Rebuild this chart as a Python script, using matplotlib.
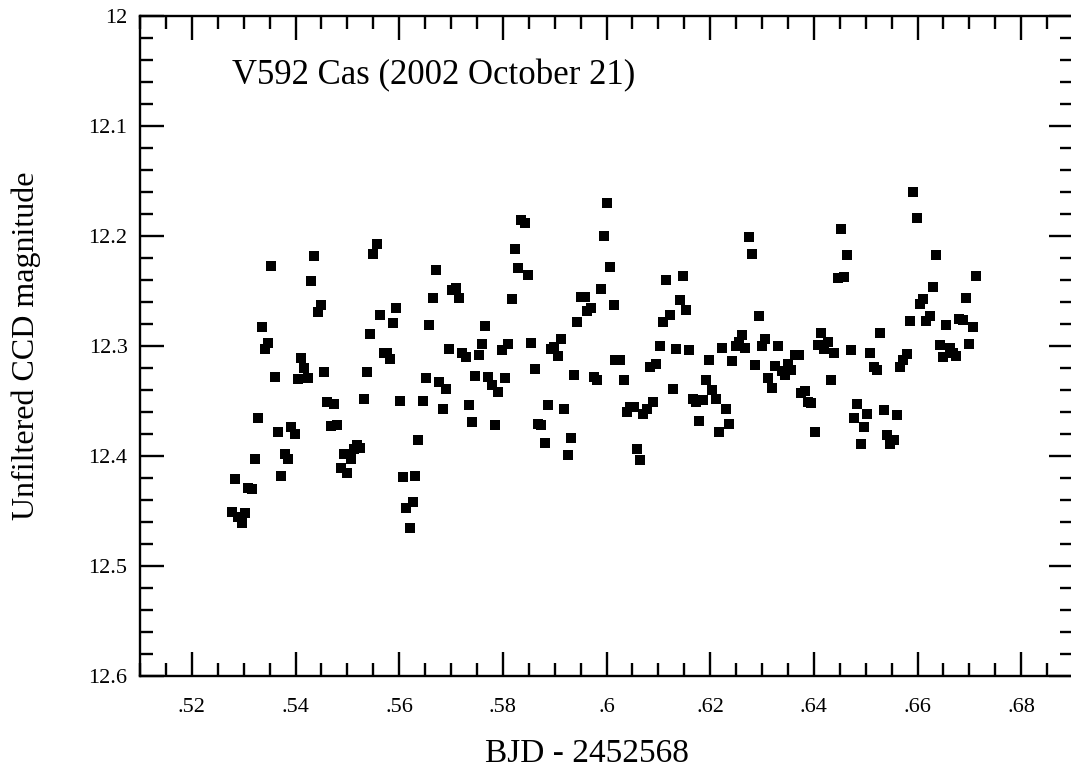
import matplotlib
matplotlib.use("Agg")
import matplotlib.pyplot as plt
from matplotlib.ticker import MultipleLocator, FuncFormatter

# BJD - 2452568 (fraction of day) and unfiltered CCD magnitude
bjd = [
    0.5557, 0.5550, 0.5436, 0.5353, 0.5430, 0.5449, 0.5444, 0.5594, 0.5563, 0.5588,
    0.5336, 0.5544, 0.5347, 0.5341, 0.5411, 0.5417, 0.5361, 0.5405, 0.5424, 0.5455,
    0.5538, 0.5570, 0.5577, 0.5582, 0.5461, 0.5474, 0.5532, 0.5602, 0.5646, 0.5328,
    0.5366, 0.5392, 0.5399, 0.5469, 0.5480, 0.5322, 0.5380, 0.5386, 0.5494, 0.5507,
    0.5519, 0.5525, 0.5513, 0.5488, 0.5500, 0.5284, 0.5372, 0.5309, 0.5317, 0.5278,
    0.5289, 0.5303, 0.5297, 0.5608, 0.5631, 0.5627, 0.5613, 0.5621, 0.5636,
    0.6001, 0.5835, 0.5843, 0.5995, 0.5824, 0.6007, 0.5829, 0.5849, 0.5671, 0.5710,
    0.5702, 0.5716, 0.5665, 0.5818, 0.5989, 0.5951, 0.5958, 0.5970, 0.5962, 0.5943,
    0.6014, 0.5658, 0.5766, 0.5696, 0.5721, 0.5729, 0.5760, 0.5754, 0.5810, 0.5798,
    0.5854, 0.5912, 0.5898, 0.5892, 0.5906, 0.6017, 0.6027, 0.5652, 0.5677, 0.5690,
    0.5746, 0.5771, 0.5779, 0.5791, 0.5804, 0.5862, 0.5937, 0.5976, 0.5982, 0.5685,
    0.5735, 0.5887, 0.5918, 0.5741, 0.5785, 0.5868, 0.5874, 0.5881, 0.5932, 0.5926,
    0.6275, 0.6281, 0.6115, 0.6148, 0.6142, 0.6153, 0.6122, 0.6109, 0.6294, 0.6103,
    0.6134, 0.6159, 0.6223, 0.6261, 0.6256, 0.6250, 0.6267, 0.6306, 0.6300, 0.6331,
    0.6095, 0.6084, 0.6198, 0.6242, 0.6286, 0.6325, 0.6364, 0.6371, 0.6350, 0.6338,
    0.6344, 0.6356, 0.6311, 0.6319, 0.6034, 0.6128, 0.6192, 0.6203, 0.6211, 0.6167,
    0.6173, 0.6186, 0.6230, 0.6375, 0.6383, 0.6389, 0.6394, 0.6045, 0.6053, 0.6040,
    0.6078, 0.6090, 0.6070, 0.6178, 0.6236, 0.6217, 0.6059, 0.6065,
    0.6591, 0.6599, 0.6452, 0.6464, 0.6635, 0.6458, 0.6446, 0.6713, 0.6630, 0.6693,
    0.6610, 0.6605, 0.6585, 0.6616, 0.6624, 0.6655, 0.6680, 0.6688, 0.6707, 0.6414,
    0.6408, 0.6427, 0.6419, 0.6439, 0.6472, 0.6508, 0.6527, 0.6516, 0.6522, 0.6580,
    0.6572, 0.6566, 0.6643, 0.6662, 0.6668, 0.6649, 0.6674, 0.6699, 0.6433, 0.6483,
    0.6477, 0.6502, 0.6497, 0.6535, 0.6560, 0.6541, 0.6554, 0.6547, 0.6491, 0.6402,
]
mag = [
    12.207, 12.216, 12.218, 12.227, 12.241, 12.263, 12.269, 12.265, 12.272, 12.279,
    12.283, 12.289, 12.297, 12.303, 12.311, 12.320, 12.328, 12.330, 12.329, 12.324,
    12.324, 12.306, 12.306, 12.312, 12.351, 12.353, 12.348, 12.350, 12.350, 12.365,
    12.378, 12.374, 12.380, 12.373, 12.372, 12.403, 12.398, 12.403, 12.398, 12.403,
    12.390, 12.393, 12.394, 12.411, 12.415, 12.421, 12.418, 12.429, 12.430, 12.451,
    12.455, 12.452, 12.461, 12.419, 12.418, 12.442, 12.447, 12.465, 12.385,
    12.170, 12.185, 12.188, 12.200, 12.212, 12.228, 12.229, 12.235, 12.231, 12.247,
    12.249, 12.256, 12.256, 12.257, 12.248, 12.255, 12.255, 12.265, 12.268, 12.278,
    12.263, 12.281, 12.282, 12.303, 12.306, 12.310, 12.298, 12.308, 12.298, 12.304,
    12.297, 12.294, 12.301, 12.303, 12.309, 12.313, 12.313, 12.329, 12.333, 12.339,
    12.327, 12.328, 12.335, 12.342, 12.329, 12.321, 12.326, 12.328, 12.331, 12.357,
    12.354, 12.354, 12.357, 12.369, 12.372, 12.371, 12.372, 12.388, 12.384, 12.399,
    12.201, 12.216, 12.240, 12.236, 12.258, 12.267, 12.272, 12.278, 12.273, 12.300,
    12.303, 12.304, 12.302, 12.290, 12.296, 12.300, 12.302, 12.294, 12.300, 12.300,
    12.316, 12.319, 12.313, 12.314, 12.317, 12.318, 12.308, 12.308, 12.316, 12.323,
    12.326, 12.322, 12.329, 12.338, 12.331, 12.339, 12.331, 12.340, 12.348, 12.348,
    12.351, 12.349, 12.357, 12.343, 12.341, 12.351, 12.352, 12.355, 12.355, 12.360,
    12.357, 12.351, 12.362, 12.368, 12.371, 12.378, 12.394, 12.404,
    12.160, 12.184, 12.194, 12.217, 12.217, 12.237, 12.238, 12.236, 12.246, 12.256,
    12.257, 12.262, 12.277, 12.277, 12.273, 12.281, 12.275, 12.276, 12.283, 12.288,
    12.299, 12.296, 12.303, 12.306, 12.304, 12.306, 12.288, 12.319, 12.322, 12.307,
    12.313, 12.319, 12.299, 12.302, 12.306, 12.310, 12.309, 12.298, 12.331, 12.353,
    12.365, 12.362, 12.374, 12.358, 12.363, 12.381, 12.385, 12.389, 12.389, 12.378,
]

title_text = "V592 Cas (2002 October 21)"
x_label = "BJD - 2452568"
y_label = "Unfiltered CCD magnitude"
x_ticks = [0.52, 0.54, 0.56, 0.58, 0.60, 0.62, 0.64, 0.66, 0.68]
y_ticks = [12.0, 12.1, 12.2, 12.3, 12.4, 12.5, 12.6]

plt.rcParams['font.family'] = ['Liberation Serif', 'DejaVu Serif']

fig = plt.figure(figsize=(10.71, 7.76), dpi=100)
ax = fig.add_axes([140 / 1071, 100 / 776, 933 / 1071, 660 / 776])

ax.plot(bjd, mag, linestyle='none', marker='s', markersize=6.6,
        markerfacecolor='black', markeredgewidth=0, color='black')

ax.set_xlim(0.51, 0.69)
ax.set_ylim(12.6, 12.0)
ax.set_xticks(x_ticks)
ax.set_yticks(y_ticks)
ax.xaxis.set_minor_locator(MultipleLocator(0.005))
ax.yaxis.set_minor_locator(MultipleLocator(0.02))


def fmt_x(v, pos):
    s = ("%.2f" % v).rstrip('0')
    return s[1:] if s.startswith('0') else s


def fmt_y(v, pos):
    s = ("%.1f" % v)
    return s[:-2] if s.endswith('.0') else s


ax.xaxis.set_major_formatter(FuncFormatter(fmt_x))
ax.yaxis.set_major_formatter(FuncFormatter(fmt_y))

ax.tick_params(which='both', direction='in', top=True, right=True,
               width=1.7, color='black', labelsize=16)
ax.tick_params(which='major', length=17)
ax.tick_params(which='minor', length=9.5)
ax.tick_params(axis='y', which='major', pad=9)
ax.tick_params(axis='x', which='major', pad=16)
for sp in ax.spines.values():
    sp.set_linewidth(1.7)

ax.set_xlabel(x_label, fontsize=24, labelpad=15)
ax.xaxis.label.set_x(0.479)
ax.set_ylabel(y_label, fontsize=23, labelpad=34)
ax.text(0.0986, 0.91, title_text, transform=ax.transAxes, fontsize=25,
        ha='left', va='center')

fig.savefig("out.png", dpi=100)
